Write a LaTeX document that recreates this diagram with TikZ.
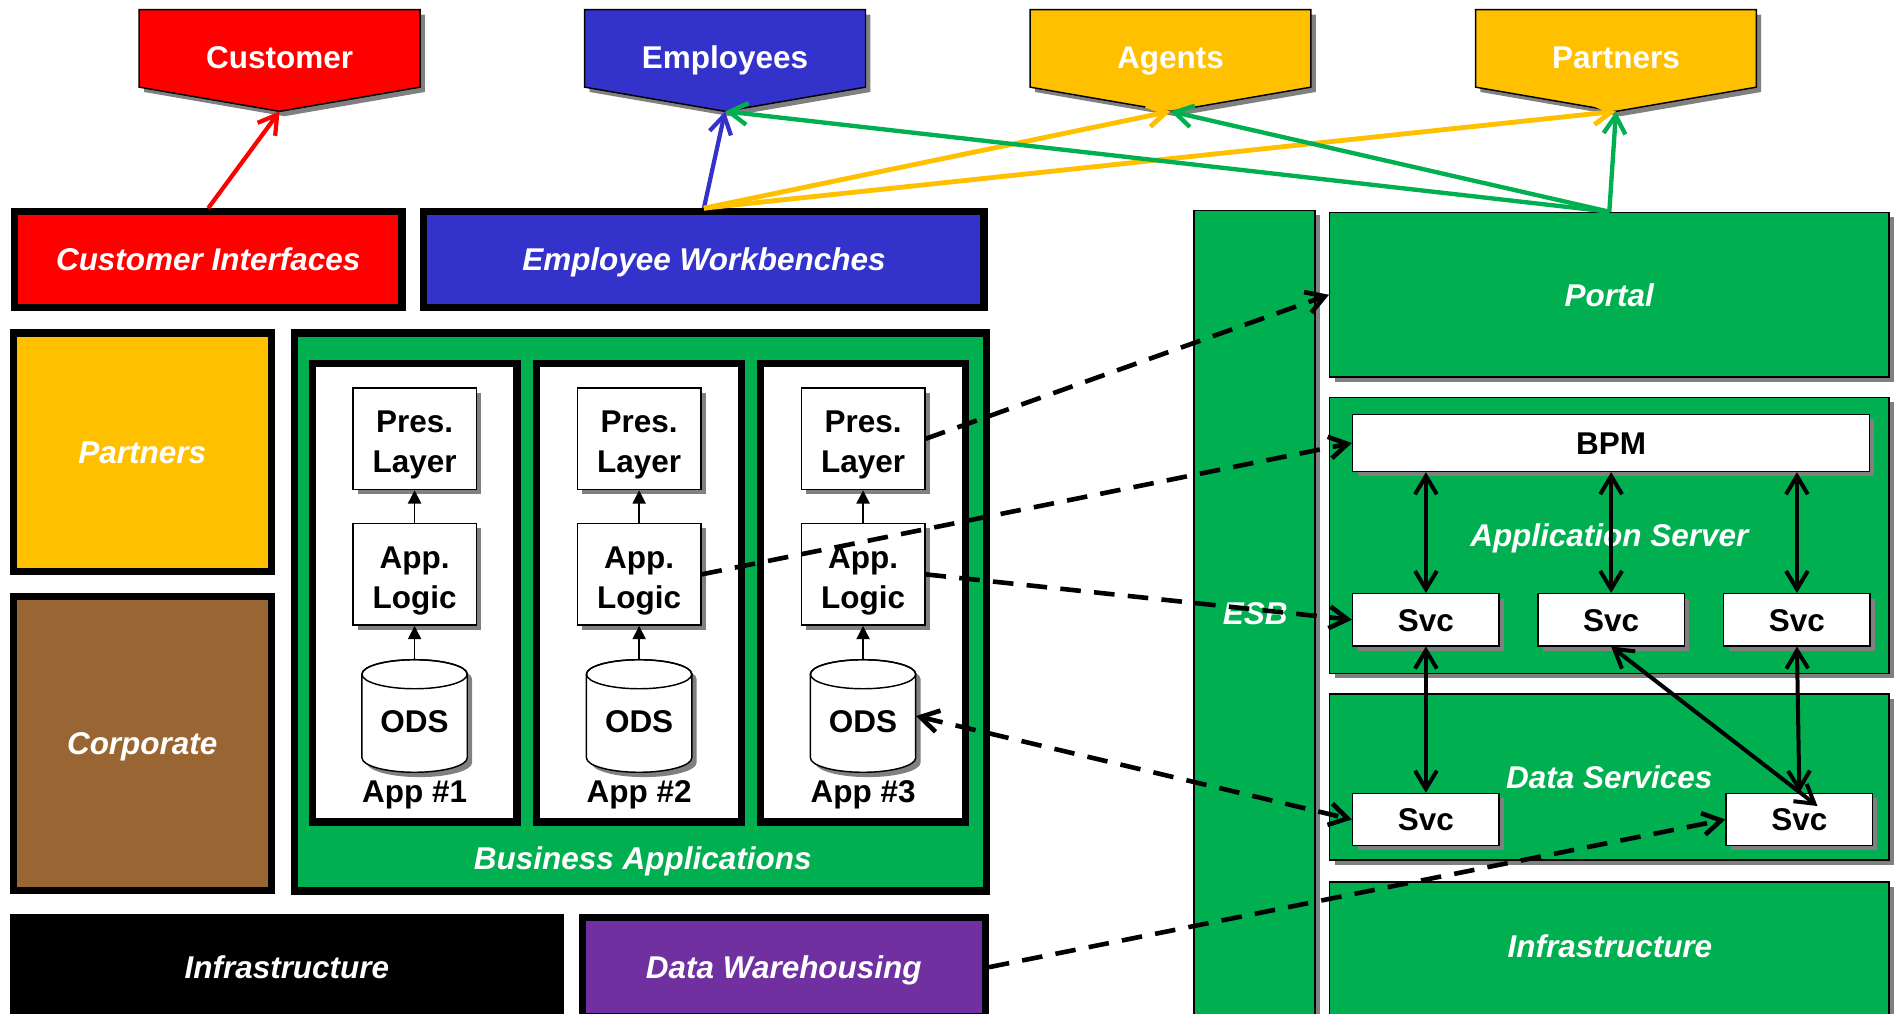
\documentclass[tikz,border=0pt]{standalone}
\usepackage{fontspec}
\setmainfont{Liberation Sans}
\usetikzlibrary{arrows.meta,shadows,calc}

\definecolor{cred}{HTML}{FF0000}
\definecolor{cblue}{HTML}{3333CC}
\definecolor{cgold}{HTML}{FFC000}
\definecolor{cgreen}{HTML}{00B050}
\definecolor{cbrown}{HTML}{996633}
\definecolor{cpurple}{HTML}{7030A0}
\definecolor{cshadow}{HTML}{808080}

\newcommand\lblfont{\bfseries\fontsize{26}{33}\selectfont}

\tikzset{
  shad/.style={drop shadow={shadow xshift=4pt,shadow yshift=-4pt,fill=cshadow,opacity=1}},
  wital/.style={font=\lblfont\itshape, text=white, text height=18.6pt, text depth=0pt},
  wup/.style={font=\lblfont, text=white, text height=18.6pt, text depth=0pt},
  blk/.style={font=\lblfont, text=black, text height=18.6pt, text depth=0pt},
  blk2/.style={font=\lblfont, text=black, align=center, text height=55.6pt, text depth=0pt},
  frame/.style={draw=black, line width=6pt, inner sep=0pt},
  plate/.style={draw=black, line width=1.2pt, inner sep=0pt, shad},
  dashconn/.style={line width=3.8pt, dash pattern=on 17pt off 11pt},
  solidconn/.style={line width=3.3pt},
  innerarrow/.style={line width=1.2pt, -{Triangle[length=11pt,width=11pt]}},
}

% audience pentagon: name, centre x, colour, text
\newcommand\persona[4]{%
  \filldraw[fill=#3, draw=black, line width=1.2pt, shad]
    (#2-116,8) -- (#2+116,8) -- (#2+116,72) -- (#2,92) -- (#2-116,72) -- cycle;
  \node[wup] (#1) at (#2,47) {#4};
  \coordinate (#1-tip) at (#2,92);
}

\begin{document}
\begin{tikzpicture}[x=1pt,y=-1pt,>={Straight Barb[length=15pt,width=18pt]}]
\useasboundingbox (0,0) rectangle (1568,837);
\clip (0,0) rectangle (1568,837);

% audiences
\persona{cust}{231}{cred}{Customer}
\persona{emp}{599}{cblue}{Employees}
\persona{agt}{967}{cgold}{Agents}
\persona{ptn}{1335}{cgold}{Partners}

% channels
\node[frame, fill=cred, minimum width=320pt, minimum height=79pt, wital] (ci) at (172,214.5) {Customer Interfaces};
\node[frame, fill=cblue, minimum width=463pt, minimum height=79pt, wital] (ew) at (581.5,214.5) {Employee Workbenches};

% left column
\node[frame, fill=cgold, minimum width=213pt, minimum height=197pt, wital] (prt) at (117.5,373.5) {Partners};
\node[frame, fill=cbrown, minimum width=213pt, minimum height=243pt, wital] (corp) at (117.5,614) {Corporate};

% business applications
\node[frame, fill=cgreen, minimum width=572pt, minimum height=461pt] (ba) at (529,505.5) {};
\node[wital] (batext) at (531,709) {Business Applications};
\foreach \i/\cx in {1/342.5,2/528,3/713}{
  \node[frame, fill=white, minimum width=169pt, minimum height=379pt] (app\i) at (\cx,489.5) {};
  \node[plate, fill=white, minimum width=102pt, minimum height=84pt, blk2] (pres\i) at (\cx,362.5) {Pres.\\Layer};
  \node[plate, fill=white, minimum width=102pt, minimum height=84pt, blk2] (logic\i) at (\cx,474.5) {App.\\Logic};
  \filldraw[fill=white, draw=black, line width=1.2pt, shad]
    (\cx-43.5,557) -- (\cx-43.5,626)
    arc[start angle=180,end angle=0,x radius=43.5,y radius=12]
    -- (\cx+43.5,557)
    arc[start angle=0,end angle=-180,x radius=43.5,y radius=12] -- cycle;
  \draw[line width=1.2pt] (\cx,557) ellipse[x radius=43.5,y radius=12];
  \node[minimum width=87pt, minimum height=93pt, inner sep=0pt, font=\lblfont, text height=27.6pt, text depth=0pt] (ods\i) at (\cx,591.5) {ODS};
  \node[blk] (applbl\i) at (\cx,654) {App \#\i};
  \draw[innerarrow] (ods\i.north) -- (logic\i.south);
  \draw[innerarrow] (logic\i.north) -- (pres\i.south);
}

% bottom row
\node[frame, fill=black, minimum width=452pt, minimum height=82pt, wital] (infl) at (237,799) {Infrastructure};
\node[frame, fill=cpurple, minimum width=333pt, minimum height=82pt, wital] (dw) at (647.5,799) {Data Warehousing};

% service platform
\node[plate, fill=cgreen, minimum width=100pt, minimum height=676pt] (esb) at (1036.5,512) {};
\node[wital] (esbtext) at (1037,507) {ESB};
\node[plate, fill=cgreen, minimum width=462pt, minimum height=136pt, wital] (portal) at (1329.5,243.5) {Portal};
\node[plate, fill=cgreen, minimum width=462pt, minimum height=228pt, wital] (appsrv) at (1329.5,442.5) {Application Server};
\node[plate, fill=white, minimum width=427pt, minimum height=47pt, blk] (bpm) at (1331,366) {BPM};
\node[plate, fill=white, minimum width=121pt, minimum height=43pt, blk] (svc1) at (1178,512) {Svc};
\node[plate, fill=white, minimum width=121pt, minimum height=43pt, blk] (svc2) at (1331,512) {Svc};
\node[plate, fill=white, minimum width=121pt, minimum height=43pt, blk] (svc3) at (1484.5,512) {Svc};
\node[plate, fill=cgreen, minimum width=462pt, minimum height=137pt, wital] (datasvc) at (1329.5,642) {Data Services};
\node[plate, fill=white, minimum width=121pt, minimum height=43pt, blk] (dsvc1) at (1178,677) {Svc};
\node[plate, fill=white, minimum width=121pt, minimum height=43pt, blk] (dsvc2) at (1486.5,677) {Svc};
\node[plate, fill=cgreen, minimum width=462pt, minimum height=121pt] (infr) at (1329.5,789) {};
\node[wital] (infrtext) at (1330,782) {Infrastructure};

% audience links
\draw[line width=3.5pt, cred, ->] (ci.north) -- (cust-tip);
\draw[line width=3.5pt, cblue, ->] (ew.north) -- (emp-tip);
\draw[line width=4pt, cgold, ->] (ew.north) -- (agt-tip);
\draw[line width=4pt, cgold, ->] (ew.north) -- (ptn-tip);
\draw[line width=3.6pt, cgreen, ->] (portal.north) -- (emp-tip);
\draw[line width=3.6pt, cgreen, ->] (portal.north) -- (agt-tip);
\draw[line width=3.6pt, cgreen, ->] (portal.north) -- (ptn-tip);

% migration paths
\draw[dashconn, ->] (pres3.east) -- (portal.west);
\draw[dashconn, ->] (logic2.east) -- (bpm.west);
\draw[dashconn, ->] (logic3.east) -- (svc1.west);
\draw[dashconn, <->] (ods3.east) -- (dsvc1.west);
\draw[dashconn, ->] (dw.east) -- (dsvc2.west);

% service calls
\draw[solidconn, <->] (bpm.south -| svc1.north) -- (svc1.north);
\draw[solidconn, <->] (bpm.south -| svc2.north) -- (svc2.north);
\draw[solidconn, <->] (bpm.south -| svc3.north) -- (svc3.north);
\draw[solidconn, <->] (svc1.south) -- (dsvc1.north);
\draw[solidconn, <->] (svc3.south) -- (dsvc2.north);
\draw[solidconn, <->] (svc2.south) -- ($(dsvc2.north)+(15,11)$);
\end{tikzpicture}
\end{document}
